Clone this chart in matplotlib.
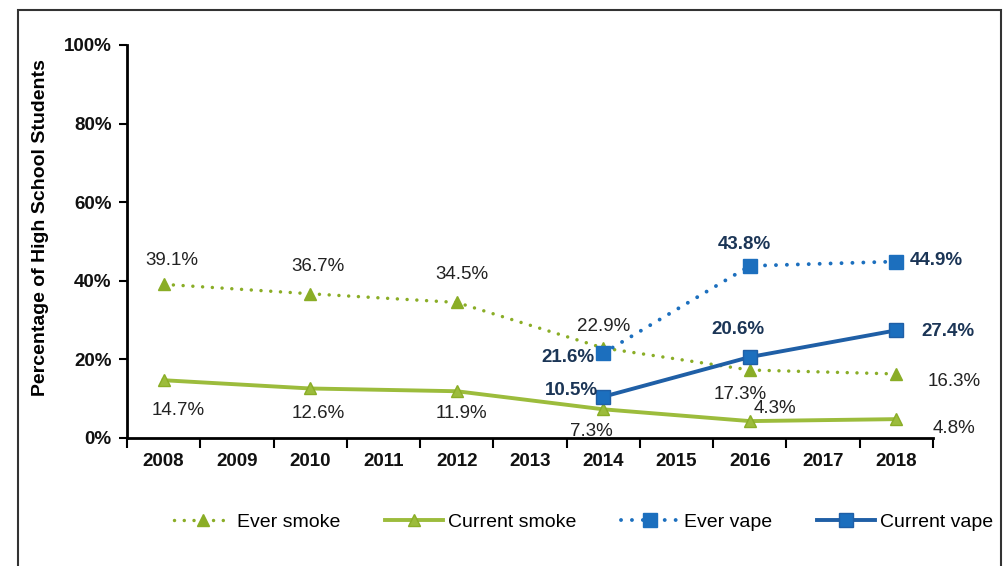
import matplotlib
matplotlib.use("Agg")
from matplotlib import pyplot as plt
from matplotlib.patches import Rectangle

plt.rcParams['font.family'] = ['Liberation Sans', 'DejaVu Sans']

years = [2008, 2009, 2010, 2011, 2012, 2013, 2014, 2015, 2016, 2017, 2018]

ever_smoke_years = [2008, 2010, 2012, 2014, 2016, 2018]
ever_smoke = [39.1, 36.7, 34.5, 22.9, 17.3, 16.3]

current_smoke_years = [2008, 2010, 2012, 2014, 2016, 2018]
current_smoke = [14.7, 12.6, 11.9, 7.3, 4.3, 4.8]

vape_years = [2014, 2016, 2018]
ever_vape = [21.6, 43.8, 44.9]
current_vape = [10.5, 20.6, 27.4]

# label offsets in pixels (dx, dy)
ever_smoke_offs = [(8, 24), (8, 27), (5, 28), (0, 22), (-10, -24), (58, -8)]
current_smoke_offs = [(15, -30), (8, -25), (5, -22), (-12, -22), (25, 13), (58, -9)]
ever_vape_offs = [(-35, -4), (-5, 21), (40, 1)]
current_vape_offs = [(-32, 6), (-12, 28), (52, -1)]

GREEN = '#8aad26'
GREEN_LIGHT = '#9cbc3c'
BLUE = '#1c6fbe'
BLUE_DARK = '#1f5fa6'
TEXT = '#222222'
TEXT_BLUE = '#1b3556'

fig = plt.figure(figsize=(10.06, 5.66), dpi=100)
fig.patches.append(Rectangle((18 / 1006, -0.05), (1001 - 18) / 1006, 1.05 - 10 / 566,
                             transform=fig.transFigure, fill=False,
                             edgecolor='#333333', linewidth=1.5))

ax = fig.add_axes([127 / 1006, (566 - 438) / 566, (933 - 127) / 1006, (438 - 45) / 566])

x = lambda ys: [years.index(y) for y in ys]

dots = (0, (0.01, 2.8))
l1, = ax.plot(x(ever_smoke_years), ever_smoke, linestyle=dots, linewidth=2.5,
              dash_capstyle='round', color=GREEN, marker='^', markersize=9, label='Ever smoke')
l2, = ax.plot(x(current_smoke_years), current_smoke, linestyle='-', linewidth=2.8,
              color=GREEN_LIGHT, marker='^', markersize=9, markeredgecolor=GREEN,
              label='Current smoke')
l3, = ax.plot(x(vape_years), ever_vape, linestyle=dots, linewidth=2.8,
              dash_capstyle='round', color=BLUE, marker='s', markersize=10, label='Ever vape')
l4, = ax.plot(x(vape_years), current_vape, linestyle='-', linewidth=2.8,
              color=BLUE_DARK, marker='s', markersize=10, markerfacecolor=BLUE,
              label='Current vape')

def label(xs, vals, offs, color, weight):
    for xi, v, (dx, dy) in zip(xs, vals, offs):
        ax.annotate('%.1f%%' % v, (xi, v), xytext=(dx, dy), textcoords='offset pixels',
                    ha='center', va='center', fontsize=13.5, color=color, fontweight=weight)

label(x(ever_smoke_years), ever_smoke, ever_smoke_offs, TEXT, 'normal')
label(x(current_smoke_years), current_smoke, current_smoke_offs, TEXT, 'normal')
label(x(vape_years), ever_vape, ever_vape_offs, TEXT_BLUE, 'bold')
label(x(vape_years), current_vape, current_vape_offs, TEXT_BLUE, 'bold')

ax.set_xlim(-0.5, len(years) - 0.5)
ax.set_ylim(0, 100)
ax.set_yticks([0, 20, 40, 60, 80, 100])
ax.set_yticklabels(['%d%%' % t for t in [0, 20, 40, 60, 80, 100]])
ax.set_xticks(range(len(years)))
ax.set_xticklabels([str(y) for y in years])
ax.set_xticks([i - 0.5 for i in range(len(years) + 1)], minor=True)
ax.tick_params(axis='x', which='major', length=0, pad=11)
ax.tick_params(axis='x', which='minor', length=7, width=1.5, direction='out')
ax.tick_params(axis='y', length=6, width=1.5, direction='out', pad=5)
for lab in ax.get_xticklabels() + ax.get_yticklabels():
    lab.set_fontsize(13.5)
    lab.set_fontweight('bold')
    lab.set_color('#111111')

for s in ['top', 'right']:
    ax.spines[s].set_visible(False)
ax.spines['left'].set_linewidth(2)
ax.spines['bottom'].set_linewidth(2)

ax.set_ylabel('Percentage of High School Students', fontsize=14, fontweight='bold')
ax.yaxis.set_label_coords(-0.097, 0.535)

fig.legend(handles=[l1, l2, l3, l4], loc='center', bbox_to_anchor=(0.58, 0.078), ncol=4,
           frameon=False, fontsize=14, handlelength=3.0, columnspacing=2.3, handletextpad=0.25)

fig.savefig('out.png', dpi=100)
